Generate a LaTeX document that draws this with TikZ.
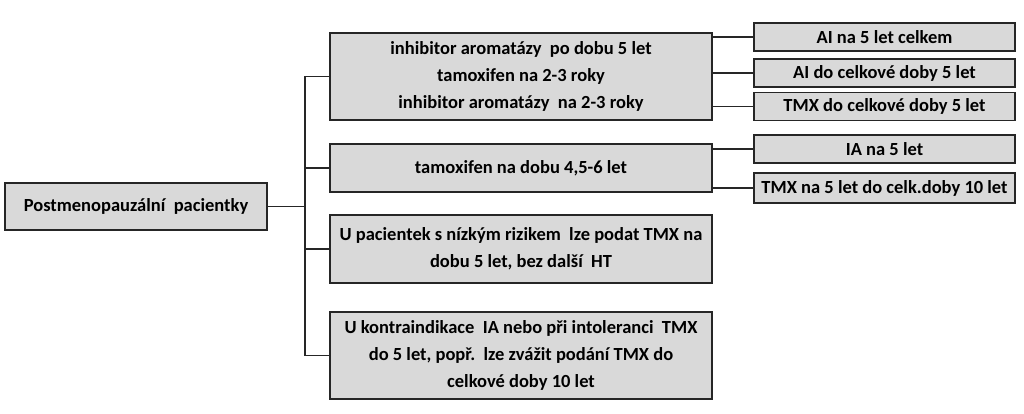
\documentclass[tikz,border=0pt]{standalone}
\usepackage{fontspec}
\setmainfont{Carlito}
\begin{document}
\begin{tikzpicture}[x=1pt, y=-1pt,
            box/.style={draw=black!85, rectangle, fill=black!15, line width=1.6pt, align=center, inner sep=0pt,
                font=\fontsize{18.5}{27}\selectfont\bfseries},
            mid/.style={box, minimum width=382pt},
            side/.style={box, minimum width=261pt, minimum height=28pt},
            link/.style={draw=black!85, line width=1.6pt}]

            \useasboundingbox (0,0) rectangle (1024,414);

            \node[box, minimum width=262pt, minimum height=47pt] (root) at (136,206.5) {Postmenopauzální\ \ pacientky};

            \node[mid, minimum height=87pt] (b1) at (521,76.5) {inhibitor aromatázy\ \ po dobu 5 let\\tamoxifen na 2-3 roky\\inhibitor aromatázy\ \ na 2-3 roky};
            \node[mid, minimum height=48pt] (b2) at (521,168) {tamoxifen na dobu 4,5-6 let};
            \node[mid, minimum height=68pt] (b3) at (521,249) {U pacientek s nízkým rizikem\ \ lze podat TMX na\\dobu 5 let, bez další\ \ HT};
            \node[mid, minimum height=87pt] (b4) at (521,355.5) {U kontraindikace\ \ IA nebo při intoleranci\ \ TMX\\do 5 let, popř.\ \ lze zvážit podání TMX do\\celkové doby 10 let};

            \node[side] (r1) at (884.5,37) {AI na 5 let celkem};
            \node[side] (r2) at (884.5,73) {AI do celkové doby 5 let};
            \node[side] (r3) at (884.5,106.5) {TMX do celkové doby 5 let};
            \node[side] (r4) at (884.5,149) {IA na 5 let};
            \node[side, minimum height=30pt] (r5) at (884.5,188) {TMX na 5 let do celk.doby 10 let};

            \coordinate (fork) at (305,206.5);

            \draw[link] (root) -- (fork);
            \draw[link] (fork |- b1) -- (fork |- b4);
            \foreach \b in {b1, b2, b3, b4}
                \draw[link] (fork |- \b) -- (\b.west);
            \foreach \r/\b in {r1/b1, r2/b1, r3/b1, r4/b2, r5/b2}
                \draw[link] (\b.east |- \r) -- (\r.west);
        \end{tikzpicture}
\end{document}
